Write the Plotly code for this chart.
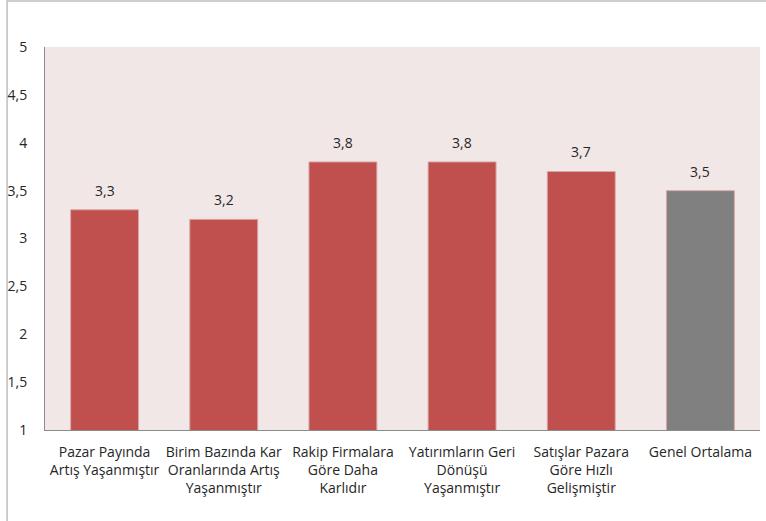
import plotly.graph_objects as go

categories = [
    "Pazar Payında<br>Artış Yaşanmıştır",
    "Birim Bazında Kar<br>Oranlarında Artış<br>Yaşanmıştır",
    "Rakip Firmalara<br>Göre Daha<br>Karlıdır",
    "Yatırımların Geri<br>Dönüşü<br>Yaşanmıştır",
    "Satışlar Pazara<br>Göre Hızlı<br>Gelişmiştir",
    "Genel Ortalama",
]
values = [3.3, 3.2, 3.8, 3.8, 3.7, 3.5]
bar_colors = ["#C0504D"] * 5 + ["#808080"]

fig = go.Figure(
    go.Bar(
        x=categories,
        y=values,
        marker=dict(color=bar_colors, line=dict(color="#D9A8A6", width=1)),
        width=0.57,
        hoverinfo="x+y",
    )
)

# value labels above each bar
for cat, val in zip(categories, values):
    fig.add_annotation(
        x=cat,
        y=val,
        text=f"{val:.1f}".replace(".", ","),
        showarrow=False,
        yanchor="bottom",
        yshift=8,
        font=dict(size=14, color="#262626"),
    )

fig.update_layout(
    width=766,
    height=521,
    margin=dict(l=45, r=6, t=47, b=91),
    paper_bgcolor="white",
    plot_bgcolor="#F2E7E7",
    separators=",.",
    font=dict(family="Open Sans", size=14, color="#262626"),
    showlegend=False,
    xaxis=dict(
        showline=True,
        linecolor="#8C8C8C",
        linewidth=1,
        ticks="",
        ticklabelstandoff=9,
        tickfont=dict(size=14),
    ),
    yaxis=dict(
        range=[1, 5],
        dtick=0.5,
        showgrid=False,
        zeroline=False,
        showline=True,
        linecolor="#8C8C8C",
        linewidth=1,
        ticks="",
        ticklabelstandoff=14,
        tickfont=dict(size=14),
    ),
    shapes=[
        dict(
            type="rect",
            xref="paper",
            yref="paper",
            x0=-0.053,
            x1=1.1,
            y0=-0.4,
            y1=1.12,
            line=dict(color="#BFBFBF", width=1.5),
            fillcolor="rgba(0,0,0,0)",
            layer="below",
        )
    ],
)

fig.write_html("out.html")
